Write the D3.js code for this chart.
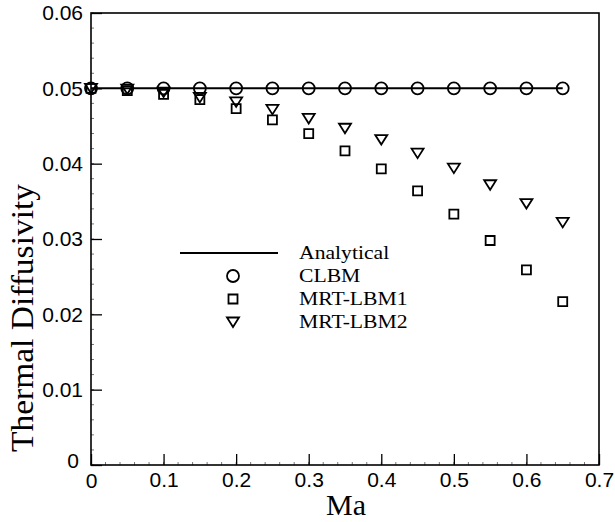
<!DOCTYPE html>
<html>
<head>
<meta charset="utf-8">
<script src="https://cdn.jsdelivr.net/npm/d3@7"></script>
<style>
  body { margin: 0; background: #fff; }
  .tick text { font-family: "Liberation Sans", Arial, sans-serif; font-size: 21px; fill: #000; }
</style>
</head>
<body>
<script>
// data
let ma = [0, 0.05, 0.1, 0.15, 0.2, 0.25, 0.3, 0.35, 0.4, 0.45, 0.5, 0.55, 0.6, 0.65];
let analytical = [0.05, 0.05, 0.05, 0.05, 0.05, 0.05, 0.05, 0.05, 0.05, 0.05, 0.05, 0.05, 0.05, 0.05];
let clbm = [0.05, 0.05, 0.05, 0.05, 0.05, 0.05, 0.05, 0.05, 0.05, 0.05, 0.05, 0.05, 0.05, 0.05];
let mrt1 = [0.05, 0.0497, 0.0492, 0.0485, 0.0473, 0.0458, 0.044, 0.0417, 0.0393, 0.0364, 0.0333, 0.0298, 0.0259, 0.0217];
let mrt2 = [0.05, 0.0499, 0.0495, 0.0488, 0.0482, 0.0472, 0.046, 0.0447, 0.0432, 0.0414, 0.0394, 0.0372, 0.0347, 0.0322];
let xTicks = [0, 0.1, 0.2, 0.3, 0.4, 0.5, 0.6, 0.7];
let yTicks = [0, 0.01, 0.02, 0.03, 0.04, 0.05, 0.06];
let legendNames = ["Analytical", "CLBM", "MRT-LBM1", "MRT-LBM2"];

let margin = {top: 13, right: 16, bottom: 57, left: 91},
    width = 615 - margin.left - margin.right,
    height = 522 - margin.top - margin.bottom;

let svg = d3.select("body").append("svg")
    .attr("width", 615)
    .attr("height", 522);

let g = svg.append("g")
    .attr("transform", "translate(" + margin.left + "," + margin.top + ")");

let x = d3.scaleLinear().domain([0, 0.7]).range([0, width]);
let y = d3.scaleLinear().domain([0, 0.06]).range([height, 0]);

// minor ticks
let minorX = d3.range(0, 0.7001, 0.02);
let minorY = d3.range(0, 0.0601, 0.002);
g.selectAll(".mx").data(minorX).enter().append("line")
    .attr("x1", d => x(d)).attr("x2", d => x(d))
    .attr("y1", height).attr("y2", height - 3)
    .attr("stroke", "#777").attr("stroke-width", 1);
g.selectAll(".my").data(minorY).enter().append("line")
    .attr("y1", d => y(d)).attr("y2", d => y(d))
    .attr("x1", 0).attr("x2", 3)
    .attr("stroke", "#777").attr("stroke-width", 1);

// axes, ticks pointing inward
let xAxis = g.append("g")
    .attr("transform", "translate(0," + height + ")")
    .call(d3.axisBottom(x).tickValues(xTicks).tickSizeInner(-11).tickSizeOuter(0)
        .tickFormat(d => d === 0 ? "0" : d3.format(".1f")(d)));
xAxis.selectAll(".tick text").attr("y", 7).attr("dy", "0.71em");
xAxis.select(".domain").remove();

let yAxis = g.append("g")
    .call(d3.axisLeft(y).tickValues(yTicks).tickSizeInner(-11).tickSizeOuter(0)
        .tickFormat(d => d === 0 ? "0" : d3.format(".2f")(d)));
yAxis.selectAll(".tick text").attr("x", -8);
yAxis.select(".domain").remove();
svg.selectAll(".tick line").attr("stroke", "#000").attr("stroke-width", 1.3);

// nudge the two zeros like the original
xAxis.selectAll(".tick").filter(d => d === 0).select("text").attr("y", 8);
yAxis.selectAll(".tick").filter(d => d === 0).select("text").attr("x", -12).attr("dy", "0.1em");

// frame
g.append("rect")
    .attr("width", width).attr("height", height)
    .attr("fill", "none").attr("stroke", "#000").attr("stroke-width", 1.6);

// analytical line
let line = d3.line().x((d, i) => x(ma[i])).y(d => y(d));
g.append("path")
    .datum(analytical)
    .attr("d", line)
    .attr("fill", "none").attr("stroke", "#000").attr("stroke-width", 2);

// marker shapes
let circlePath = "M6,0A6,6,0,1,1,-6,0A6,6,0,1,1,6,0Z";
let squarePath = "M-4.5,-4.5H4.5V4.5H-4.5Z";
let triPath = "M-6,-4.5H6L0,5Z";

function drawSeries(vals, shape) {
    g.append("g").selectAll("path")
        .data(vals)
        .enter().append("path")
        .attr("transform", (d, i) => "translate(" + x(ma[i]) + "," + y(d) + ")")
        .attr("d", shape)
        .attr("fill", "none").attr("stroke", "#000").attr("stroke-width", 1.8);
}
drawSeries(mrt1, squarePath);
drawSeries(mrt2, triPath);
drawSeries(clbm, circlePath);

// legend
let legend = svg.append("g");
let legY = [253, 276, 299, 322];
legend.append("line")
    .attr("x1", 180).attr("x2", 278)
    .attr("y1", legY[0]).attr("y2", legY[0])
    .attr("stroke", "#000").attr("stroke-width", 2);
[circlePath, squarePath, triPath].forEach((p, i) => {
    legend.append("path")
        .attr("transform", "translate(233," + legY[i + 1] + ")")
        .attr("d", p)
        .attr("fill", "none").attr("stroke", "#000").attr("stroke-width", 1.8);
});
legend.selectAll("text")
    .data(legendNames)
    .enter().append("text")
    .attr("x", 299)
    .attr("y", (d, i) => legY[i] + 6)
    .style("font-family", "'Liberation Serif', 'Times New Roman', serif")
    .style("font-size", "19px")
    .text(d => d)
    // the original type is a little wider than Times
    .attr("textLength", function() { return this.getComputedTextLength() * 1.14; })
    .attr("lengthAdjust", "spacingAndGlyphs");

// axis titles
svg.append("text")
    .attr("x", 346).attr("y", 515)
    .attr("text-anchor", "middle")
    .style("font-family", "'Liberation Serif', 'Times New Roman', serif")
    .style("font-size", "30px")
    .text("Ma");

svg.append("text")
    .attr("transform", "translate(33,318) rotate(-90)")
    .attr("text-anchor", "middle")
    .style("font-family", "'Liberation Serif', 'Times New Roman', serif")
    .style("font-size", "31px")
    .attr("textLength", 268)
    .attr("lengthAdjust", "spacingAndGlyphs")
    .text("Thermal Diffusivity");
</script>
</body>
</html>
